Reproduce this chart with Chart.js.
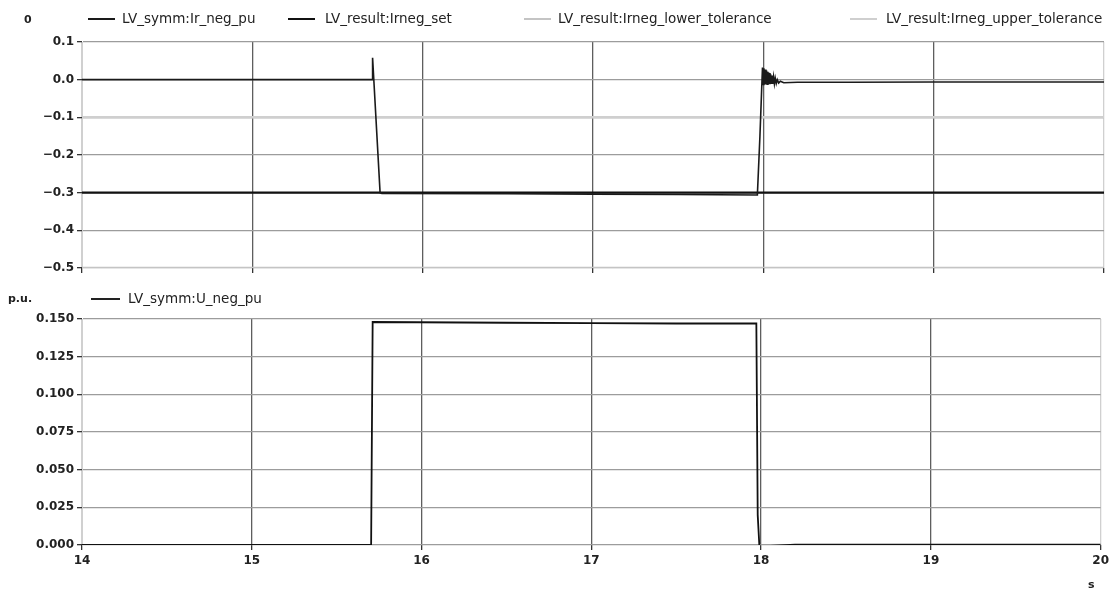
<!DOCTYPE html>
<html>
<head>
<meta charset="utf-8">
<script src="https://cdn.jsdelivr.net/npm/chart.js@4.4.1/dist/chart.umd.min.js"></script>
<style>
  body { margin: 0; background: #fff; width: 1113px; height: 596px; overflow: hidden; position: relative; }
  .panel { position: absolute; left: 0; width: 1113px; }
  .txt { position: absolute; font-family: 'DejaVu Sans', sans-serif; font-size: 13.5px; color: #222; white-space: nowrap; line-height: 16px; }
  .unit { font-weight: bold; font-size: 11px; }
  .key { position: absolute; height: 2px; }
</style>
</head>
<body>
<div class="panel" style="top:0;height:292px"><canvas id="topChart"></canvas></div>
<div class="panel" style="top:290px;height:306px"><canvas id="bottomChart"></canvas></div>
<div id="legends"></div>
<script>
// x axis
const xMin = 14;
const xMax = 20;

// top panel: negative sequence current
const irNegTime = [14, 15.703, 15.706, 15.75, 15.76, 16.5, 17.0, 17.5, 17.965, 17.98, 17.995,
  17.999, 18.003, 18.007, 18.011, 18.015, 18.019, 18.023, 18.027, 18.031, 18.035, 18.039, 18.043,
  18.047, 18.051, 18.055, 18.06, 18.065, 18.07, 18.076, 18.082, 18.09, 18.1, 18.12,
  18.2, 18.5, 19, 20];
const irNegValues = [0, 0, 0.058, -0.3, -0.302, -0.303, -0.304, -0.305, -0.306, -0.15, 0.032,
  -0.013, 0.03, -0.013, 0.027, -0.013, 0.024, -0.012, 0.021, -0.012, 0.018, -0.012, 0.014,
  -0.011, 0.011, -0.011, 0.008, -0.011, 0.004, -0.01, 0.0, -0.009, -0.004, -0.008,
  -0.007, -0.007, -0.006, -0.006];
const irSetTime = [14, 20];
const irSetValues = [-0.3, -0.3];
const irLowerTime = [14, 20];
const irLowerValues = [-0.5, -0.5];
const irUpperTime = [14, 20];
const irUpperValues = [-0.1, -0.1];

// bottom panel: negative sequence voltage
const uNegTime = [14, 15.703, 15.712, 16.5, 17.0, 17.5, 17.972, 17.98, 17.99, 18.2, 19, 20];
const uNegValues = [0, 0, 0.148, 0.1475, 0.1472, 0.147, 0.147, 0.02, -0.001, 0.0003, 0.0003, 0.0003];

const topLabels = ['LV_symm:Ir_neg_pu', 'LV_result:Irneg_set', 'LV_result:Irneg_lower_tolerance', 'LV_result:Irneg_upper_tolerance'];
const bottomLabels = ['LV_symm:U_neg_pu'];

const topColors = ['#1a1a1a', '#111111', '#c4c4c4', '#cfcfcf'];
const topWidths = [1.6, 2.2, 2.5, 2.5];

function pts(xs, ys) {
  return xs.map((x, i) => ({ x: x, y: ys[i] }));
}

const tickFont = { family: 'DejaVu Sans', size: 12, weight: 'bold' };

function xScale(showLabels, height) {
  return {
    type: 'linear',
    min: xMin,
    max: xMax,
    ticks: { stepSize: 1, display: showLabels, font: tickFont, color: '#222', padding: 4 },
    grid: {
      color: ctx => (ctx.tick && (ctx.tick.value === xMin || ctx.tick.value === xMax)) ? '#d0d0d0' : '#5e5e5e',
      lineWidth: 1.3,
      tickColor: '#333',
      tickLength: 5
    },
    border: { display: false },
    afterFit: scale => { scale.height = height; }
  };
}

function yScale(min, max, step, digits) {
  return {
    min: min,
    max: max,
    ticks: {
      stepSize: step,
      font: tickFont,
      color: '#222',
      padding: 3,
      callback: v => {
        const val = Math.abs(v) < 1e-9 ? 0 : v;
        return val.toFixed(digits).replace('-', '\u2212');
      }
    },
    grid: { color: '#9c9c9c', lineWidth: 1.3, tickColor: '#333', tickLength: 5 },
    border: { color: '#d0d0d0' },
    afterFit: scale => { scale.width = 82; }
  };
}

const topDatasets = [
  pts(irNegTime, irNegValues),
  pts(irSetTime, irSetValues),
  pts(irLowerTime, irLowerValues),
  pts(irUpperTime, irUpperValues)
].map((d, i) => ({
  label: topLabels[i],
  data: d,
  borderColor: topColors[i],
  backgroundColor: topColors[i],
  borderWidth: topWidths[i],
  pointRadius: 0,
  tension: 0,
  order: i < 2 ? i : 2   // measured signal on top of the reference lines
}));

new Chart(document.getElementById('topChart'), {
  type: 'line',
  data: { datasets: topDatasets },
  options: {
    animation: false,
    responsive: true,
    maintainAspectRatio: false,
    layout: { padding: { top: 42, right: 9, left: 0, bottom: 0 } },
    plugins: { legend: { display: false }, tooltip: { enabled: false } },
    scales: {
      x: xScale(false, 24),
      y: yScale(-0.5, 0.1, 0.1, 1)
    }
  }
});

new Chart(document.getElementById('bottomChart'), {
  type: 'line',
  data: {
    datasets: [{
      label: bottomLabels[0],
      data: pts(uNegTime, uNegValues),
      borderColor: '#111',
      backgroundColor: '#111',
      borderWidth: 1.8,
      pointRadius: 0,
      tension: 0
    }]
  },
  options: {
    animation: false,
    responsive: true,
    maintainAspectRatio: false,
    layout: { padding: { top: 29, right: 9, left: 0, bottom: 0 } },
    plugins: { legend: { display: false }, tooltip: { enabled: false } },
    scales: {
      x: xScale(true, 51),
      y: yScale(0, 0.15, 0.025, 3)
    }
  }
});

// legends and unit labels as html text
const legendBox = document.getElementById('legends');
function addText(text, left, top, cls) {
  const el = document.createElement('div');
  el.className = 'txt' + (cls ? ' ' + cls : '');
  el.textContent = text;
  el.style.left = left + 'px';
  el.style.top = top + 'px';
  legendBox.appendChild(el);
}
function addKey(left, top, width, color, h) {
  const el = document.createElement('div');
  el.className = 'key';
  el.style.left = left + 'px';
  el.style.top = top + 'px';
  el.style.width = width + 'px';
  el.style.height = h + 'px';
  el.style.background = color;
  legendBox.appendChild(el);
}

const topKeyX = [88, 288, 524, 850];
const topTextX = [122, 325, 558, 886];
topLabels.forEach((lab, i) => {
  addKey(topKeyX[i], 18, 27, topColors[i], i === 1 ? 2 : 1.5);
  addText(lab, topTextX[i], 10);
});
addText('0', 24, 12, 'unit');

addKey(91, 298, 29, '#222', 1.5);
addText(bottomLabels[0], 128, 290);
addText('p.u.', 8, 291, 'unit');
addText('s', 1088, 577, 'unit');
</script>
</body>
</html>
